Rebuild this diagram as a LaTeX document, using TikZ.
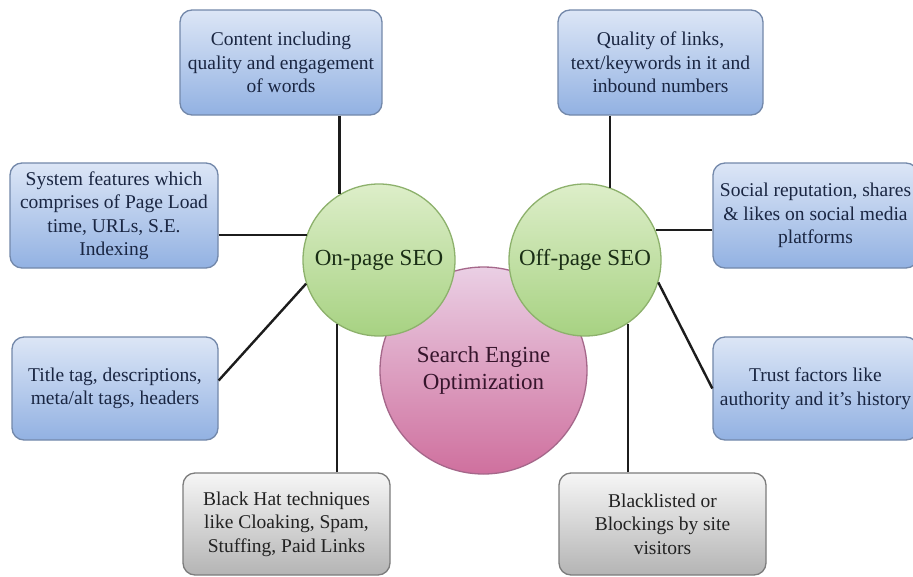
\documentclass[tikz,border=0pt]{standalone}
\usepackage{fontspec}
\setmainfont{Liberation Serif}

\definecolor{boxtop}{HTML}{DCE6F6}
\definecolor{boxbot}{HTML}{92B1E2}
\definecolor{boxline}{HTML}{7388AA}
\definecolor{boxtext}{HTML}{1A2642}
\definecolor{greytop}{HTML}{F6F6F6}
\definecolor{greybot}{HTML}{B4B4B4}
\definecolor{greyline}{HTML}{7C7C7C}
\definecolor{greytext}{HTML}{222222}
\definecolor{leaftop}{HTML}{DDEEC9}
\definecolor{leafbot}{HTML}{A7D282}
\definecolor{leafline}{HTML}{8DB16C}
\definecolor{leaftext}{HTML}{1A2E15}
\definecolor{rosetop}{HTML}{EACFE4}
\definecolor{rosebot}{HTML}{CF709E}
\definecolor{roseline}{HTML}{A5678A}
\definecolor{rosetext}{HTML}{36152C}
\definecolor{linkcol}{HTML}{1C1C1C}

\tikzset{
  infobox/.style={rounded corners=12pt, draw=boxline, line width=1.3pt,
    top color=boxtop, bottom color=boxbot, text=boxtext, align=center,
    inner sep=2pt, font=\fontsize{19.5}{23.5}\selectfont},
  greybox/.style={infobox, draw=greyline, top color=greytop,
    bottom color=greybot, text=greytext},
  leaf/.style={circle, draw=leafline, line width=1.3pt, top color=leaftop,
    bottom color=leafbot, text=leaftext, minimum size=152pt, inner sep=0pt,
    font=\fontsize{23}{27}\selectfont},
  hub/.style={circle, draw=roseline, line width=1.3pt, top color=rosetop,
    bottom color=rosebot, text=rosetext, minimum size=207pt, inner sep=0pt,
    align=center, font=\fontsize{23}{27}\selectfont},
  link/.style={draw=linkcol, line width=2.4pt}
}

\begin{document}
\begin{tikzpicture}[x=1pt,y=-1pt]
  \useasboundingbox (0,0) rectangle (913,576);
  \fill[white] (0,0) rectangle (913,576);
  \clip (0,0) rectangle (913,576);

  % central topic and its two branches
  \node[hub] (seo) at (483.5,370.5) {Search Engine\\Optimization};
  \node[leaf] (on) at (379,260) {On-page SEO};
  \node[leaf] (off) at (585,260) {Off-page SEO};

  % on-page factors
  \node[infobox, minimum width=202pt, minimum height=105pt] (content) at (281,62.5)
    {Content including\\quality and engagement\\of words};
  \node[infobox, minimum width=208pt, minimum height=105pt] (system) at (114,215.5)
    {System features which\\comprises of Page Load\\time, URLs, S.E.\\Indexing};
  \node[infobox, minimum width=206pt, minimum height=103pt] (title) at (115,388.5)
    {Title tag, descriptions,\\meta/alt tags, headers};
  \node[greybox, minimum width=207pt, minimum height=102pt] (blackhat) at (286.5,524)
    {Black Hat techniques\\like Cloaking, Spam,\\Stuffing, Paid Links};

  % off-page factors
  \node[infobox, minimum width=205pt, minimum height=105pt] (links) at (660.5,62.5)
    {Quality of links,\\text/keywords in it and\\inbound numbers};
  \node[infobox, minimum width=205pt, minimum height=105pt] (social) at (815.5,215.5)
    {Social reputation, shares\\\& likes on social media\\platforms};
  \node[infobox, minimum width=205pt, minimum height=103pt] (trust) at (815.5,388.5)
    {Trust factors like\\authority and it's history};
  \node[greybox, minimum width=207pt, minimum height=102pt] (blacklist) at (662.5,524)
    {Blacklisted or\\Blockings by site\\visitors};

  % connectors
  \draw[link] (content.south -| on.121) -- (on.121);
  \draw[link] (system.east |- on.161) -- (on.161);
  \draw[link] ([yshift=8pt]title.east) -- (on.198);
  \draw[link] (blackhat.north -| on.237) -- (on.237);

  \draw[link] (links.south -| off.71) -- (off.71);
  \draw[link] (social.west |- off.23) -- (off.23);
  \draw[link] (trust.west) -- (off.-17);
  \draw[link] (blacklist.north -| off.-56) -- (off.-56);
\end{tikzpicture}
\end{document}
